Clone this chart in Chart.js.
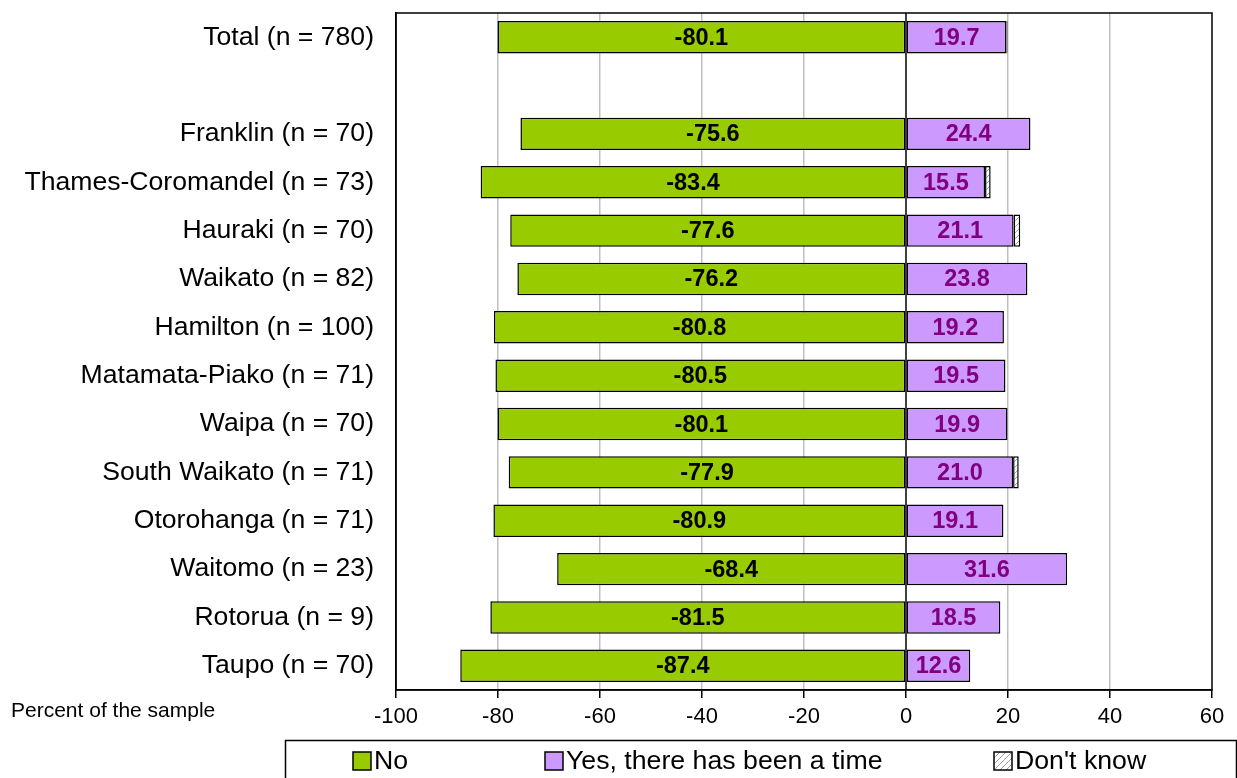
<!DOCTYPE html>
<html>
<head>
<meta charset="utf-8">
<script src="https://cdn.jsdelivr.net/npm/chart.js@4.4.1/dist/chart.umd.min.js"></script>
<style>
  html, body { margin: 0; padding: 0; background: #ffffff; }
  #wrap { width: 1237px; height: 778px; position: relative; }
</style>
</head>
<body>
<div id="wrap"><canvas id="c" width="1237" height="778"></canvas></div>
<script>
const categories = [
  'Total (n = 780)', '', 'Franklin (n = 70)', 'Thames-Coromandel (n = 73)', 'Hauraki (n = 70)',
  'Waikato (n = 82)', 'Hamilton (n = 100)', 'Matamata-Piako (n = 71)', 'Waipa (n = 70)',
  'South Waikato (n = 71)', 'Otorohanga (n = 71)', 'Waitomo (n = 23)', 'Rotorua (n = 9)', 'Taupo (n = 70)'
];
const noValues = [-80.1, null, -75.6, -83.4, -77.6, -76.2, -80.8, -80.5, -80.1, -77.9, -80.9, -68.4, -81.5, -87.4];
const yesValues = [19.7, null, 24.4, 15.5, 21.1, 23.8, 19.2, 19.5, 19.9, 21.0, 19.1, 31.6, 18.5, 12.6];
const dontKnowValues = [0.2, null, null, 1.1, 1.3, null, null, null, null, 1.1, null, null, null, null];
const seriesNames = ['No', 'Yes, there has been a time', "Don't know"];
const xTicks = [-100, -80, -60, -40, -20, 0, 20, 40, 60];
const axisNote = 'Percent of the sample';

function hatchPattern() {
  const p = document.createElement('canvas');
  p.width = 6; p.height = 6;
  const g = p.getContext('2d');
  g.fillStyle = '#ffffff';
  g.fillRect(0, 0, 6, 6);
  g.strokeStyle = '#a0a0a0';
  g.lineWidth = 1;
  g.beginPath();
  g.moveTo(0, 6); g.lineTo(6, 0);
  g.moveTo(-3, 3); g.lineTo(3, -3);
  g.moveTo(3, 9); g.lineTo(9, 3);
  g.stroke();
  return document.getElementById('c').getContext('2d').createPattern(p, 'repeat');
}
const hatch = hatchPattern();

const FONT = "Arial, 'Liberation Sans', sans-serif";

const framePlugin = {
  id: 'frame',
  beforeDatasetsDraw(chart) {
    const a = chart.chartArea, ctx = chart.ctx;
    ctx.save();
    ctx.strokeStyle = '#000';
    ctx.lineWidth = 1.5;
    ctx.strokeRect(a.left, a.top, a.right - a.left, a.bottom - a.top);
    const x0 = chart.scales.x.getPixelForValue(0);
    ctx.beginPath();
    ctx.moveTo(x0, a.top); ctx.lineTo(x0, a.bottom);
    ctx.stroke();
    ctx.restore();
  }
};

const labelPlugin = {
  id: 'valueLabels',
  afterDatasetsDraw(chart) {
    const ctx = chart.ctx;
    ctx.save();
    ctx.font = "bold 23.5px " + FONT;
    ctx.textAlign = 'center';
    ctx.textBaseline = 'middle';
    [0, 1].forEach(di => {
      const meta = chart.getDatasetMeta(di);
      const ds = chart.data.datasets[di];
      ctx.fillStyle = di === 0 ? '#000000' : '#800080';
      meta.data.forEach((el, i) => {
        const v = ds.data[i];
        if (v === null || v === undefined) return;
        const c = el.getCenterPoint();
        ctx.fillText(v.toFixed(1), c.x, c.y + 1);
      });
    });
    ctx.restore();
  }
};

const legendPlugin = {
  id: 'customLegend',
  afterDraw(chart) {
    const ctx = chart.ctx;
    ctx.save();
    ctx.strokeStyle = '#000';
    ctx.lineWidth = 1.5;
    ctx.strokeRect(285.5, 740.5, 951, 60);
    ctx.fillStyle = '#000';
    ctx.font = "21px " + FONT;
    ctx.textAlign = 'left';
    ctx.textBaseline = 'middle';
    ctx.fillText(axisNote, 11, 711);
    const items = [
      { x: 353, ds: 0 },
      { x: 545, ds: 1 },
      { x: 994, ds: 2 }
    ];
    ctx.font = "26.7px " + FONT;
    items.forEach(it => {
      const ds = chart.data.datasets[it.ds];
      ctx.fillStyle = ds.backgroundColor;
      ctx.fillRect(it.x, 752, 18, 18);
      ctx.strokeStyle = '#000';
      ctx.lineWidth = 1.5;
      ctx.strokeRect(it.x, 752, 18, 18);
      ctx.fillStyle = '#000';
      ctx.fillText(ds.label, it.x + 21, 762);
    });
    ctx.restore();
  }
};

new Chart(document.getElementById('c'), {
  type: 'bar',
  data: {
    labels: categories,
    datasets: [
      { label: seriesNames[0], data: noValues, backgroundColor: '#99CC00', borderColor: '#000', borderWidth: 1.5, borderSkipped: false },
      { label: seriesNames[1], data: yesValues, backgroundColor: '#CC99FF', borderColor: '#000', borderWidth: 1.5, borderSkipped: false },
      { label: seriesNames[2], data: dontKnowValues, backgroundColor: hatch, borderColor: '#000', borderWidth: 1.5, borderSkipped: false }
    ]
  },
  options: {
    indexAxis: 'y',
    responsive: false,
    animation: false,
    devicePixelRatio: 1,
    layout: { padding: { top: 13, right: 25, left: 0, bottom: 0 } },
    categoryPercentage: 1,
    barPercentage: 0.67,
    plugins: {
      legend: { display: false },
      tooltip: { enabled: false }
    },
    scales: {
      x: {
        stacked: true,
        min: -100,
        max: 60,
        afterBuildTicks(scale) { scale.ticks = xTicks.map(v => ({ value: v })); },
        afterFit(scale) { scale.height = 88; scale.paddingLeft = 0; scale.paddingRight = 0; },
        ticks: {
          color: '#000',
          font: { family: FONT, size: 22 },
          padding: 6,
          maxRotation: 0
        },
        grid: {
          color: ctx => (ctx.tick && (ctx.tick.value === 0 || ctx.tick.value === -100 || ctx.tick.value === 60)) ? 'rgba(0,0,0,0)' : '#c0c0c0',
          lineWidth: 1.5,
          tickColor: '#000',
          tickLength: 8,
          tickWidth: 1.5,
          drawOnChartArea: true
        },
        border: { display: true, color: '#000', width: 1.5 }
      },
      y: {
        stacked: true,
        afterFit(scale) { scale.width = 396; scale.paddingTop = 0; scale.paddingBottom = 0; },
        ticks: {
          color: '#000',
          font: { family: FONT, size: 26.6 },
          padding: 22,
          autoSkip: false
        },
        grid: { display: false, drawTicks: false },
        border: { display: true, color: '#000', width: 1.5 }
      }
    }
  },
  plugins: [framePlugin, labelPlugin, legendPlugin]
});
</script>
</body>
</html>
